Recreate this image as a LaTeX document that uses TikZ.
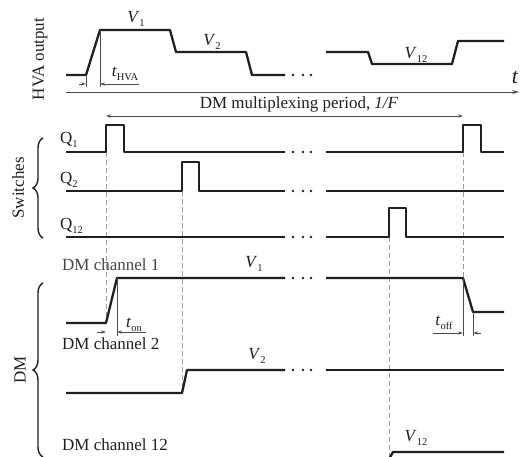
\documentclass[tikz,border=0pt]{standalone}
\usepackage{fontspec}
\setmainfont{Liberation Serif}
\usetikzlibrary{arrows.meta,decorations.pathreplacing}
% small lowered subscript in text mode
\newcommand{\lowsub}[1]{\raisebox{-0.45ex}{\fontsize{10.5}{10.5}\selectfont #1}}
\begin{document}
\begin{tikzpicture}[x=1pt,y=-1pt,
  sig/.style={line width=2.3pt, line join=round, color=black!88},
  thinline/.style={line width=0.7pt, color=black!70},
  guide/.style={line width=0.8pt, color=black!38, dash pattern=on 5pt off 3pt},
  dimarrow/.style={thinline, -{Stealth[length=5pt,width=3.2pt]}},
  lbl/.style={font=\fontsize{17}{17}\selectfont, inner sep=0pt, text=black!88},
  dotsym/.style={circle, fill=black!88, inner sep=0pt, minimum size=2.8pt},
  brc/.style={decorate, decoration={brace, amplitude=10pt}, line width=1.4pt, color=black!88}
]
\useasboundingbox (0,0) rectangle (522,457);

% ---------- group labels and braces ----------
\node[lbl, rotate=90] (hvalbl) at (40,59) {HVA output};
\node[lbl, rotate=90] (swlbl) at (18,188) {Switches};
\node[lbl, rotate=90] (dmlbl) at (20,370) {DM};
\coordinate (swtop) at (43,138);
\coordinate (swbot) at (43,238);
\draw[brc] (swbot) -- (swtop);
\coordinate (dmtop) at (43,283);
\coordinate (dmbot) at (43,457);
\draw[brc] (dmbot) -- (dmtop);

% ---------- dashed timing guides ----------
\coordinate (g1a) at (106,152); \coordinate (g1b) at (106,323);
\coordinate (g2a) at (182,191); \coordinate (g2b) at (182,393);
\coordinate (g3a) at (389,237); \coordinate (g3b) at (389,457);
\coordinate (g4a) at (463,152); \coordinate (g4b) at (463,278);
\draw[guide] (g1a) -- (g1b);
\draw[guide] (g2a) -- (g2b);
\draw[guide] (g3a) -- (g3b);
\draw[guide] (g4a) -- (g4b);

% ---------- HVA output ----------
\draw[sig] (66,75) -- (86,75) -- (100,30) -- (170,30) -- (176,52) -- (246,52) -- (252,75) -- (285,75);
\draw[sig] (326,52) -- (368,52) -- (372,64) -- (452,64) -- (458,41) -- (504,41);
\foreach \x in {293,303,311} \node[dotsym] (hd\x) at (\x,75) {};
\node[lbl] (v1a) at (136,19) {\textit{V}\lowsub{1}};
\node[lbl] (v2a) at (212,42) {\textit{V}\lowsub{2}};
\node[lbl] (v12a) at (416,55) {\textit{V}\lowsub{12}};

% time axis
\coordinate (axs) at (66,92);
\coordinate (axe) at (519,92);
\draw[thinline, line width=0.9pt, -{Stealth[length=7pt,width=4pt]}] (axs) -- (axe);
\node[lbl, font=\fontsize{22}{22}\selectfont\itshape] (tlbl) at (515,77) {t};

% rise time of the HVA
\coordinate (h1) at (86,76); \coordinate (h1b) at (86,87);
\coordinate (h2) at (100,30); \coordinate (h2b) at (100,87);
\coordinate (hl) at (79,84); \coordinate (hlt) at (86,84);
\coordinate (hr) at (139,84); \coordinate (hrt) at (100,84);
\draw[thinline] (h1) -- (h1b);
\draw[thinline] (h2) -- (h2b);
\draw[dimarrow] (hl) -- (hlt);
\draw[dimarrow] (hr) -- (hrt);
\node[lbl] (thva) at (125,74) {\textit{t}\lowsub{HVA}};

% multiplexing period
\coordinate (pa) at (106,116);
\coordinate (pb) at (463,116);
\draw[thinline, {Stealth[length=5pt,width=3.2pt]}-{Stealth[length=5pt,width=3.2pt]}] (pa) -- (pb);
\node[lbl] (plbl) at (299,104) {DM multiplexing period, \textit{1/F}};

% ---------- switches ----------
\node[lbl, anchor=west] (q1) at (60,140) {Q\lowsub{1}};
\node[lbl, anchor=west] (q2) at (60,180) {Q\lowsub{2}};
\node[lbl, anchor=west] (q12) at (60,226) {Q\lowsub{12}};
\draw[sig] (66,152) -- (106,152) -- (106,125) -- (124,125) -- (124,152) -- (285,152);
\draw[sig] (326,152) -- (463,152) -- (463,125) -- (481,125) -- (481,152) -- (504,152);
\draw[sig] (66,191) -- (182,191) -- (182,162) -- (199,162) -- (199,191) -- (285,191);
\draw[sig] (326,191) -- (504,191);
\draw[sig] (66,237) -- (285,237);
\draw[sig] (326,237) -- (389,237) -- (389,208) -- (406,208) -- (406,237) -- (504,237);
\foreach \y in {152,191,237}
  \foreach \x in {293,303,311} \node[dotsym] (sd\x\y) at (\x,\y) {};

% ---------- DM channels ----------
\node[lbl, anchor=west, text=black!72] (ch1) at (62,265) {DM channel 1};
\node[lbl, anchor=west] (ch2) at (62,344) {DM channel 2};
\node[lbl, anchor=west] (ch12) at (62,445) {DM channel 12};

\draw[sig] (66,323) -- (106,323) -- (117,278) -- (285,278);
\draw[sig] (326,278) -- (463,278) -- (473,312) -- (504,312);
\draw[sig] (66,393) -- (182,393) -- (187,370) -- (285,370);
\draw[sig] (326,370) -- (504,370);
\draw[sig] (389,459) -- (393,452) -- (504,452);
\foreach \y in {278,370}
  \foreach \x in {293,303,311} \node[dotsym] (cd\x\y) at (\x,\y) {};
\node[lbl] (v1b) at (254,264) {\textit{V}\lowsub{1}};
\node[lbl] (v2b) at (257,356) {\textit{V}\lowsub{2}};
\node[lbl] (v12b) at (416,438) {\textit{V}\lowsub{12}};

% turn-on time
\coordinate (n2) at (117,278); \coordinate (n2b) at (117,336);
\coordinate (nl) at (97,332); \coordinate (nlt) at (106,332);
\coordinate (nr) at (146,332); \coordinate (nrt) at (117,332);
\draw[thinline] (n2) -- (n2b);
\draw[dimarrow] (nl) -- (nlt);
\draw[dimarrow] (nr) -- (nrt);
\node[lbl] (ton) at (134,325) {\textit{t}\lowsub{on}};

% turn-off time
\coordinate (f1) at (463,278); \coordinate (f1b) at (463,336);
\coordinate (f2) at (473,312); \coordinate (f2b) at (473,336);
\coordinate (fl) at (433,333); \coordinate (flt) at (463,333);
\coordinate (fr) at (481,333); \coordinate (frt) at (473,333);
\draw[thinline] (f1) -- (f1b);
\draw[thinline] (f2) -- (f2b);
\draw[dimarrow] (fl) -- (flt);
\draw[dimarrow] (fr) -- (frt);
\node[lbl] (toff) at (444,323) {\textit{t}\lowsub{off}};
\end{tikzpicture}
\end{document}
